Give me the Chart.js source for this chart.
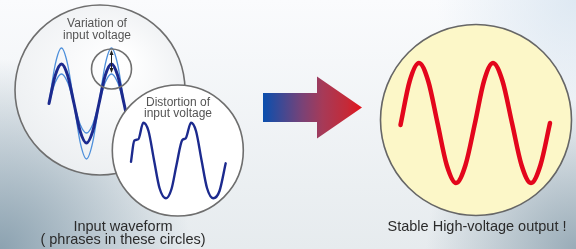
<!DOCTYPE html>
<html>
<head>
<meta charset="utf-8">
<script src="https://cdn.jsdelivr.net/npm/chart.js@4/dist/chart.umd.min.js"></script>
<style>
html, body { margin: 0; padding: 0; background: #fff; }
canvas { display: block; }
</style>
</head>
<body>
<canvas id="waveChart" width="576" height="249"></canvas>
<script>
// input waveform (big circle): one phase, three amplitudes
var inputX = [49, 55.2, 61.5, 67.7, 74, 80.2, 86.5, 92.7, 99, 105.2, 111.5, 117.7, 124, 130.2, 136.5]
var inputMain = [103.5, 75.6, 64, 75.6, 103.5, 131.4, 143, 131.4, 103.5, 75.6, 64, 75.6, 103.5, 131.4, 143]
var inputHigh = [103.5, 64.6, 48, 64.6, 103.5, 142.4, 159, 142.4, 103.5, 64.6, 48, 64.6, 103.5, 142.4, 159]
var inputLow = [103.5, 82.6, 74, 82.6, 103.5, 124.4, 133, 124.4, 103.5, 82.6, 74, 82.6, 103.5, 124.4, 133]

// distorted input (small circle)
var distortX = [131, 134.3, 138.3, 143.3, 148.5, 154, 159.5, 166, 171.5, 176.5, 182.3, 185.7, 191, 196, 201.5, 207, 213.3, 219.5, 225.7]
var distortY = [161.7, 140.7, 139.3, 122.7, 131, 160, 188, 198.3, 189, 165, 140, 138.3, 122.7, 131, 160, 188, 198.3, 191, 163.3]

// stable output (yellow circle)
var outputX = [400.5, 409.7, 419, 428.2, 437.5, 446.7, 456, 465.5, 475, 484, 493, 502.5, 512, 521.5, 531, 540.5, 550]
var outputY = [125, 81, 63, 81, 123, 165, 183, 165, 123, 81, 63, 81, 123, 165, 183, 165, 123]

var labelText = ['Variation of', 'input voltage', 'Distortion of', 'input voltage',
    'Input waveform', '( phrases in these circles)', 'Stable High-voltage output !']

// layout of the drawing (not data)
var textLayout = [
    {x: 97, y: 24, size: 12, color: '#555'},
    {x: 97, y: 36, size: 12, color: '#555'},
    {x: 178, y: 102.5, size: 12, color: '#555'},
    {x: 178, y: 113.5, size: 12, color: '#555'},
    {x: 123, y: 227, size: 14.5, color: '#2b2b2b'},
    {x: 123, y: 240, size: 14.5, color: '#2b2b2b'},
    {x: 477, y: 227, size: 14.5, color: '#2b2b2b'}
]
var circles = {
    big: {x: 100, y: 90, r: 85, stroke: '#6e6e6e', fill: 'grey'},
    zoom: {x: 111.5, y: 69, r: 20, stroke: '#707070'},
    distort: {x: 177.8, y: 150.5, r: 65.5, stroke: '#6e6e6e', fill: '#ffffff'},
    output: {x: 476, y: 120, r: 95.5, stroke: '#666', fill: '#fcf7c8'}
}
var bigArrow = {x0: 263, x1: 317, tip: 362, y: 107.5, shaft: 14.5, head: 31}

function pts(xs, ys) {
    return xs.map(function (x, i) { return {x: x, y: ys[i]} })
}

function px(chart, x, y) {
    return [chart.scales.x.getPixelForValue(x), chart.scales.y.getPixelForValue(y)]
}

function drawCircle(chart, c) {
    var ctx = chart.ctx
    var p = px(chart, c.x, c.y)
    var r = chart.scales.x.getPixelForValue(c.x + c.r) - p[0]
    ctx.save()
    ctx.beginPath()
    ctx.arc(p[0], p[1], r, 0, Math.PI * 2)
    if (c.fill === 'grey') {
        var g = ctx.createRadialGradient(p[0] + 20, p[1] - 30, 10, p[0], p[1], r)
        g.addColorStop(0, 'rgba(255,255,255,0.97)')
        g.addColorStop(1, 'rgba(240,242,244,0.9)')
        ctx.fillStyle = g
        ctx.fill()
    } else if (c.fill) {
        ctx.fillStyle = c.fill
        ctx.fill()
    }
    ctx.lineWidth = 1.6
    ctx.strokeStyle = c.stroke
    ctx.stroke()
    ctx.restore()
}

var shapes = {
    bigCircle: function (chart) { drawCircle(chart, circles.big) },
    zoomCircle: function (chart) {
        drawCircle(chart, circles.zoom)
        // double arrow showing the variation
        var ctx = chart.ctx
        var a = px(chart, 111.5, 50), b = px(chart, 111.5, 73)
        ctx.save()
        ctx.strokeStyle = '#222'
        ctx.fillStyle = '#222'
        ctx.lineWidth = 1
        ctx.beginPath()
        ctx.moveTo(a[0], a[1] + 3)
        ctx.lineTo(b[0], b[1] - 3)
        ctx.stroke()
        ctx.beginPath()
        ctx.moveTo(a[0], a[1]); ctx.lineTo(a[0] - 2, a[1] + 5); ctx.lineTo(a[0] + 2, a[1] + 5)
        ctx.closePath(); ctx.fill()
        ctx.beginPath()
        ctx.moveTo(b[0], b[1]); ctx.lineTo(b[0] - 2, b[1] - 5); ctx.lineTo(b[0] + 2, b[1] - 5)
        ctx.closePath(); ctx.fill()
        ctx.restore()
    },
    distortCircle: function (chart) { drawCircle(chart, circles.distort) },
    outputCircle: function (chart) { drawCircle(chart, circles.output) },
    arrow: function (chart) {
        var ctx = chart.ctx
        var s = px(chart, bigArrow.x0, bigArrow.y)
        var m = px(chart, bigArrow.x1, bigArrow.y)
        var t = px(chart, bigArrow.tip, bigArrow.y)
        var g = ctx.createLinearGradient(s[0], 0, t[0], 0)
        g.addColorStop(0, '#0a4fae')
        g.addColorStop(0.4, '#7a4276')
        g.addColorStop(0.6, '#a63a58')
        g.addColorStop(0.85, '#c42a38')
        g.addColorStop(1, '#e5121b')
        ctx.save()
        ctx.fillStyle = g
        ctx.beginPath()
        ctx.moveTo(s[0], s[1] - bigArrow.shaft)
        ctx.lineTo(m[0], m[1] - bigArrow.shaft)
        ctx.lineTo(m[0], m[1] - bigArrow.head)
        ctx.lineTo(t[0], t[1])
        ctx.lineTo(m[0], m[1] + bigArrow.head)
        ctx.lineTo(m[0], m[1] + bigArrow.shaft)
        ctx.lineTo(s[0], s[1] + bigArrow.shaft)
        ctx.closePath()
        ctx.fill()
        ctx.restore()
    }
}

var backdrop = {
    id: 'backdrop',
    beforeDraw: function (chart) {
        var ctx = chart.ctx, w = chart.width, h = chart.height
        ctx.save()
        var g = ctx.createLinearGradient(0, 0, 0, h)
        g.addColorStop(0, '#fafbfd')
        g.addColorStop(1, '#e6ebee')
        ctx.fillStyle = g
        ctx.fillRect(0, 0, w, h)
        var tr = ctx.createRadialGradient(w, 0, 0, w, 0, 140)
        tr.addColorStop(0, 'rgba(215,228,240,0.8)')
        tr.addColorStop(1, 'rgba(215,228,240,0)')
        ctx.fillStyle = tr
        ctx.fillRect(0, 0, w, h)
        var bl = ctx.createRadialGradient(0, h, 0, 0, h, 190)
        bl.addColorStop(0, 'rgba(135,158,173,0.95)')
        bl.addColorStop(1, 'rgba(135,158,173,0)')
        ctx.fillStyle = bl
        ctx.fillRect(0, 0, w, h)
        var br = ctx.createRadialGradient(w, h, 0, w, h, 150)
        br.addColorStop(0, 'rgba(145,165,178,0.9)')
        br.addColorStop(1, 'rgba(145,165,178,0)')
        ctx.fillStyle = br
        ctx.fillRect(0, 0, w, h)
        ctx.restore()
    },
    beforeDatasetDraw: function (chart, args) {
        var ds = chart.data.datasets[args.index]
        ;(ds.under || []).forEach(function (name) { shapes[name](chart) })
    },
    afterDraw: function (chart) {
        var ctx = chart.ctx
        ctx.save()
        ctx.textAlign = 'center'
        ctx.textBaseline = 'middle'
        for (var i = 0; i < labelText.length; i++) {
            var t = textLayout[i]
            var p = px(chart, t.x, t.y)
            ctx.font = t.size + 'px "Liberation Sans", Arial, sans-serif'
            ctx.fillStyle = t.color
            ctx.fillText(labelText[i], p[0], p[1])
        }
        ctx.restore()
    }
}

var line = function (label, data, color, width, under) {
    return {
        label: label,
        data: data,
        showLine: true,
        borderColor: color,
        borderWidth: width,
        pointRadius: 0,
        cubicInterpolationMode: 'monotone',
        borderCapStyle: 'round',
        borderJoinStyle: 'round',
        under: under || []
    }
}

var datasets = [
    line('Input (high)', pts(inputX, inputHigh), '#4d8fdb', 1.3, ['bigCircle']),
    line('Input (low)', pts(inputX, inputLow), '#4d8fdb', 1.3),
    line('Input', pts(inputX, inputMain), '#1c2a8e', 3),
    line('Distorted input', pts(distortX, distortY), '#1c2a8e', 2.4, ['zoomCircle', 'distortCircle']),
    line('Output', pts(outputX, outputY), '#e3061c', 4.5, ['arrow', 'outputCircle'])
]
datasets.forEach(function (d, i) { d.order = 10 - i })

var mychart = new Chart(document.getElementById('waveChart'), {
    type: 'scatter',
    data: {datasets: datasets},
    options: {
        responsive: false,
        animation: false,
        devicePixelRatio: 1,
        layout: {padding: 0},
        scales: {
            x: {type: 'linear', min: 0, max: 576, display: false},
            y: {type: 'linear', min: 0, max: 249, reverse: true, display: false}
        },
        plugins: {
            legend: {display: false},
            tooltip: {enabled: false}
        }
    },
    plugins: [backdrop]
});
</script>
</body>
</html>
